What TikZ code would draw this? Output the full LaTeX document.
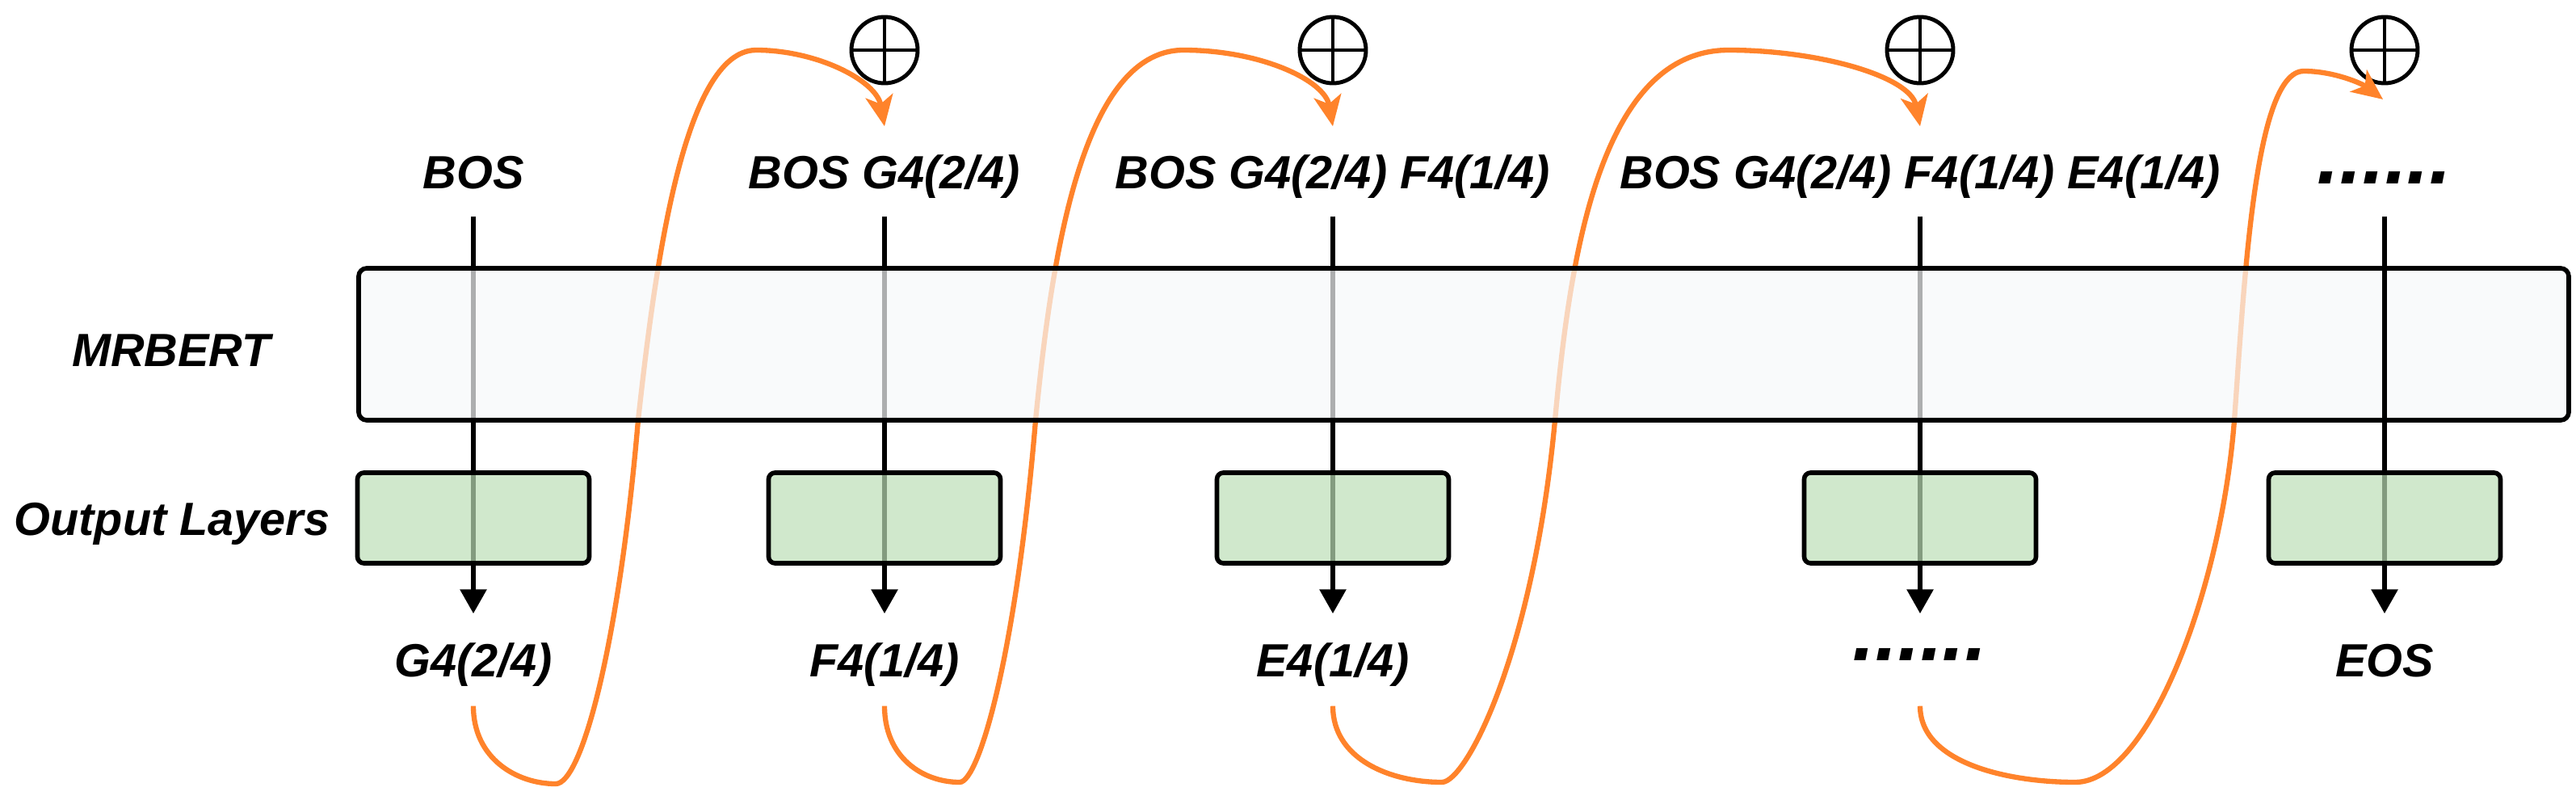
\documentclass[tikz,border=0pt]{standalone}
\usepackage{fontspec}
\setmainfont{Liberation Sans}
\usetikzlibrary{arrows.meta,calc,positioning}
\definecolor{EncFill}{HTML}{F7F8FA}
\definecolor{HeadFill}{HTML}{BCDEB6}
\definecolor{LoopOrange}{HTML}{FF832B}

\begin{document}
\begin{tikzpicture}[
  x=1cm,y=1cm,>=Triangle,
  token/.style={font=\bfseries\itshape\fontsize{16.4}{19}\selectfont,inner sep=0pt,text height=0.43cm,text depth=0.15cm,anchor=base},
  rowlabel/.style={font=\bfseries\itshape\fontsize{16.4}{19}\selectfont,inner sep=0pt,anchor=base},
  dots/.style={font=\bfseries\itshape\fontsize{28.5}{30}\selectfont},
  flow/.style={-{Triangle[length=3mm,width=3.2mm]},line width=1.7pt,shorten <=0.19cm,shorten >=0.34cm},
  loop/.style={-{Stealth[length=3.8mm,width=3.4mm,inset=1mm]},draw=LoopOrange,line width=1.8pt},
  encoder/.style={draw,line width=1.6pt,fill=EncFill,fill opacity=0.7,rounded corners=1mm,inner sep=0pt},
  head/.style={draw,line width=1.6pt,fill=HeadFill,fill opacity=0.7,rounded corners=0.8mm,minimum width=2.87cm,minimum height=1.12cm,inner sep=0pt},
  add/.style={circle,draw,line width=1.4pt,minimum size=0.82cm,inner sep=0pt,
    path picture={\draw[line width=1.4pt] (path picture bounding box.north) -- (path picture bounding box.south)
      (path picture bounding box.west) -- (path picture bounding box.east);}}
]
\useasboundingbox (0,0) rectangle (31.89,9.89);

% Row labels.
\node[rowlabel] (lblenc) at (2.12,5.36) {MRBERT};
\node[rowlabel] (lblhead) at (2.13,3.27) {Output Layers};

% Inputs.
\node[token] (in1) at (5.86,7.56) {BOS};
\node[token] (in2) at (10.95,7.56) {BOS G4(2/4)};
\node[token] (in3) at (16.50,7.56) {BOS G4(2/4) F4(1/4)};
\node[token] (in4) at (23.77,7.56) {BOS G4(2/4) F4(1/4) E4(1/4)};
\node[token,dots] (in5) at (29.52,7.56) {\raisebox{0.06cm}{......}};

% Outputs.
\node[token] (out1) at (5.86,1.52) {G4(2/4)};
\node[token] (out2) at (10.95,1.52) {F4(1/4)};
\node[token] (out3) at (16.50,1.52) {E4(1/4)};
\node[token,dots] (out4) at (23.77,1.52) {\raisebox{0.2cm}{......}};
\node[token] (out5) at (29.52,1.52) {EOS};

% Concatenation.
\node[add] (add2) at (10.95,9.27) {};
\node[add] (add3) at (16.50,9.27) {};
\node[add] (add4) at (23.77,9.27) {};
\node[add] (add5) at (29.52,9.27) {};

\foreach \i in {1,...,4}
  \draw[flow] (in\i) -- (out\i);

% Feedback loops.
\coordinate (r1) at ([yshift=-0.21cm]out1.south);
\coordinate (r2) at ([yshift=-0.21cm]out2.south);
\coordinate (r3) at ([yshift=-0.21cm]out3.south);
\coordinate (r4) at ([yshift=-0.21cm]out4.south);
\coordinate (t2) at ([yshift=0.33cm]in2.north);
\coordinate (t3) at ([yshift=0.33cm]in3.north);
\coordinate (t4) at ([yshift=0.33cm]in4.north);
\coordinate (t5) at (29.50,8.66);
\draw[loop] (r1) .. controls (5.86,0.50) and (6.40,0.19) .. (6.88,0.19)
  .. controls (7.20,0.19) and (7.66,1.9) .. (7.90,4.69)
  .. controls (8.10,6.5) and (8.45,9.27) .. (9.36,9.27)
  .. controls (10.1,9.27) and (10.85,8.9) .. (t2);
\draw[loop] (r2) .. controls (10.95,0.52) and (11.42,0.21) .. (11.88,0.21)
  .. controls (12.12,0.21) and (12.58,1.8) .. (12.82,4.69)
  .. controls (13.0,6.5) and (13.35,9.27) .. (14.65,9.27)
  .. controls (15.6,9.27) and (16.40,8.9) .. (t3);
\draw[loop] (r3) .. controls (16.50,0.50) and (17.20,0.21) .. (17.85,0.21)
  .. controls (18.15,0.21) and (18.98,1.8) .. (19.25,4.69)
  .. controls (19.42,6.5) and (19.75,9.27) .. (21.40,9.27)
  .. controls (22.5,9.27) and (23.65,8.95) .. (t4);
\draw[loop] (r4) .. controls (23.77,0.45) and (24.85,0.21) .. (25.69,0.21)
  .. controls (26.6,0.21) and (27.50,2.6) .. (27.66,4.69)
  .. controls (27.78,6.3) and (27.90,9.01) .. (28.52,9.01)
  .. controls (28.90,9.01) and (29.25,8.85) .. (t5);

% Encoder.
\node[encoder,minimum width=27.36cm,minimum height=1.88cm] (mrbert) at (18.12,5.63) {};
\draw[flow] (in5) -- (out5);

% Output layers.
\node[head] (head1) at (5.86,3.48) {};
\node[head] (head2) at (10.95,3.48) {};
\node[head] (head3) at (16.50,3.48) {};
\node[head] (head4) at (23.77,3.48) {};
\node[head] (head5) at (29.52,3.48) {};
\end{tikzpicture}
\end{document}
